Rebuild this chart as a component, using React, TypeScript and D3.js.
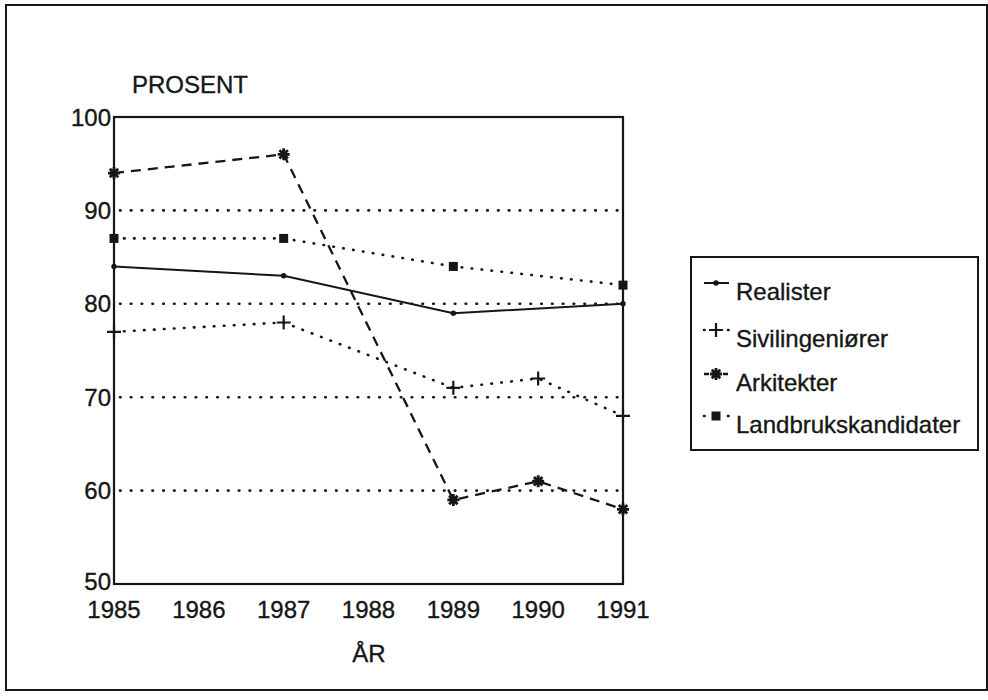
import * as d3 from 'd3'

const years = [1985, 1986, 1987, 1988, 1989, 1990, 1991]
const yTicks = [50, 60, 70, 80, 90, 100]
const gridValues = [60, 70, 80, 90]

const realisterYears = [1985, 1987, 1989, 1991]
const realister = [84, 83, 79, 80]
const sivilYears = [1985, 1987, 1989, 1990, 1991]
const sivilingenior = [77, 78, 71, 72, 68]
const arkitektYears = [1985, 1987, 1989, 1990, 1991]
const arkitekter = [94, 96, 59, 61, 58]
const landbrukYears = [1985, 1987, 1989, 1991]
const landbruk = [87, 87, 84, 82]

type Marker = 'dot' | 'plus' | 'star' | 'square'

interface Series {
  name: string
  years: number[]
  values: number[]
  dash: string | null
  width: number
  marker: Marker
}

const series: Series[] = [
  { name: 'Realister', years: realisterYears, values: realister, dash: null, width: 2, marker: 'dot' },
  { name: 'Sivilingeniører', years: sivilYears, values: sivilingenior, dash: '0.6 9.4', width: 2.6, marker: 'plus' },
  { name: 'Arkitekter', years: arkitektYears, values: arkitekter, dash: '10 7', width: 2.3, marker: 'star' },
  { name: 'Landbrukskandidater', years: landbrukYears, values: landbruk, dash: '0.6 9.4', width: 2.6, marker: 'square' },
]

const ink = '#161616'
const font = '"Liberation Sans", Arial, Helvetica, sans-serif'

const x = d3.scaleLinear().domain([1985, 1991]).range([114, 623])
const y = d3.scaleLinear().domain([50, 100]).range([584, 117])

function MarkerShape({ kind, cx, cy }: { kind: Marker; cx: number; cy: number }) {
  if (kind === 'dot') return <circle cx={cx} cy={cy} r={2.7} fill={ink} />
  if (kind === 'square') return <rect x={cx - 4.5} y={cy - 4.5} width={9} height={9} fill={ink} />
  if (kind === 'plus') {
    return (
      <path d={`M${cx - 7},${cy}H${cx + 7}M${cx},${cy - 7}V${cy + 7}`} stroke={ink} strokeWidth={2.2} />
    )
  }
  const r = 6
  const spokes = d3.range(4).map(i => {
    const a = (i * Math.PI) / 4
    const dx = r * Math.cos(a)
    const dy = r * Math.sin(a)
    return `M${cx - dx},${cy - dy}L${cx + dx},${cy + dy}`
  })
  return <path d={spokes.join('')} stroke={ink} strokeWidth={2.8} />
}

export default function App() {
  const line = d3.line<[number, number]>().x(d => x(d[0])).y(d => y(d[1]))

  const legendX = 716
  const legendRows = [283, 330, 374, 416]
  const textStyle = { stroke: ink, strokeWidth: 0.35 }

  return (
    <svg width={988} height={700} style={{ position: 'absolute', left: 0, top: 0, background: '#fff' }}
      fontFamily={font} fill={ink}>
      <rect x={6} y={5} width={981} height={685} fill="none" stroke={ink} strokeWidth={2} />

      {/* grid */}
      {gridValues.map(v => (
        <line key={v} x1={x(1985) + 6} x2={x(1991)} y1={y(v)} y2={y(v)}
          stroke={ink} strokeWidth={2.6} strokeLinecap="round" strokeDasharray="0.6 10.2" />
      ))}

      {/* series lines */}
      {series.map(s => (
        <path key={s.name} d={line(s.years.map((yr, i) => [yr, s.values[i]] as [number, number])) ?? ''}
          fill="none" stroke={ink} strokeWidth={s.width} strokeDasharray={s.dash ?? undefined}
          strokeLinecap={s.dash && s.dash.startsWith('0.6') ? 'round' : 'butt'} />
      ))}

      {/* plot frame */}
      <rect x={x(1985)} y={y(100)} width={x(1991) - x(1985)} height={y(50) - y(100)}
        fill="none" stroke={ink} strokeWidth={2.2} />

      {series.map(s => (
        <g key={s.name + '-m'}>
          {s.years.map((yr, i) => (
            <MarkerShape key={yr} kind={s.marker} cx={x(yr)} cy={y(s.values[i])} />
          ))}
        </g>
      ))}

      {/* axes labels */}
      <g fontSize={24} style={textStyle}>
        {yTicks.map(v => (
          <text key={v} x={111} y={y(v)} dy={v === 50 ? '0.27em' : '0.36em'} textAnchor="end">{v}</text>
        ))}
        {years.map(yr => (
          <text key={yr} x={x(yr)} y={618} textAnchor="middle">{yr}</text>
        ))}
        <text x={132} y={93}>PROSENT</text>
        <text x={369} y={662} textAnchor="middle">ÅR</text>
      </g>

      {/* legend */}
      <rect x={691} y={257} width={287} height={193} fill="none" stroke={ink} strokeWidth={2} />
      {series.map((s, i) => (
        <g key={s.name + '-l'}>
          <line x1={legendX - 12} x2={legendX + 13} y1={legendRows[i]} y2={legendRows[i]}
            stroke={ink} strokeWidth={s.width}
            strokeLinecap={s.dash && s.dash.startsWith('0.6') ? 'round' : 'butt'}
            strokeDasharray={s.dash === '10 7' ? '5 14 5' : s.dash ? '0.6 11.4' : undefined} />
          <MarkerShape kind={s.marker} cx={legendX} cy={legendRows[i]} />
          <text x={736} y={legendRows[i] + 17} fontSize={24} style={textStyle}>{s.name}</text>
        </g>
      ))}
    </svg>
  )
}
